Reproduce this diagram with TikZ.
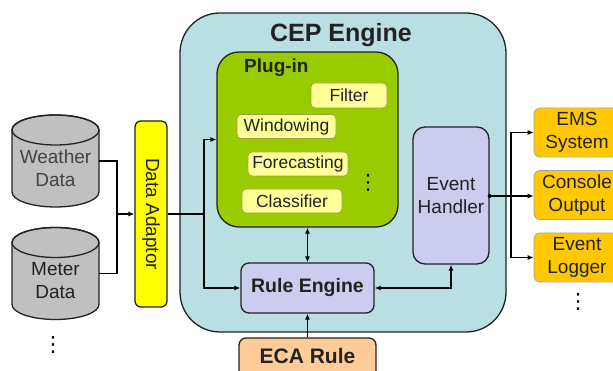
\documentclass[tikz,border=0pt]{standalone}
\usepackage{fontspec}
\setmainfont{Liberation Sans}
\newfontfamily\symfont{DejaVu Sans}
\usetikzlibrary{arrows.meta}
\definecolor{cepbg}{HTML}{B9DFE2}
\definecolor{plugbg}{HTML}{99CC00}
\definecolor{itembg}{HTML}{FFFF99}
\definecolor{itemline}{HTML}{A0A040}
\definecolor{lavender}{HTML}{CCCCEE}
\definecolor{adaptor}{HTML}{FFFF00}
\definecolor{cylgray}{HTML}{C0C0C0}
\definecolor{outbg}{HTML}{FFC800}
\definecolor{ecabg}{HTML}{FFCC99}
\definecolor{ink}{HTML}{222222}
\tikzset{
  box/.style={draw=ink, line width=1.3pt, inner sep=0pt},
  txt/.style={text=ink, font=\fontsize{19}{23}\selectfont, align=center, inner sep=0pt},
  btxt/.style={text=ink, font=\fontsize{19.5}{23}\selectfont\bfseries, align=center, inner sep=0pt},
  item/.style={draw=itemline, line width=0.8pt, fill=itembg, rounded corners=4pt,
    text=ink, font=\fontsize{17.5}{20}\selectfont, inner sep=0pt},
  outbox/.style={draw=gray!70, line width=0.8pt, fill=outbg, rounded corners=6pt,
    minimum width=86pt, minimum height=49pt, text=ink,
    font=\fontsize{19}{23}\selectfont, align=center, inner sep=0pt},
  wire/.style={draw=black, line width=1.1pt},
  arr/.style={wire, -{Latex[length=6pt,width=5pt]}},
  biarr/.style={wire, {Latex[length=6pt,width=5pt]}-{Latex[length=6pt,width=5pt]}},
  dots/.style={inner sep=0pt, text=black, font=\symfont\fontsize{21}{21}\selectfont},
}
\begin{document}
\begin{tikzpicture}[x=1pt,y=1pt]
\useasboundingbox (0,0) rectangle (613,371);
\clip (0,0) rectangle (613,371);
\fill[white] (0,0) rectangle (613,371);

% CEP engine container
\node[box, fill=cepbg, rounded corners=40pt, minimum width=326pt, minimum height=319pt] (cep) at (343,198.5) {};
\node[text=ink, font=\fontsize{25}{28}\selectfont\bfseries, inner sep=0pt] (ceptitle) at (341,336) {CEP Engine};

% plug-in group
\node[box, fill=plugbg, rounded corners=22pt, minimum width=181pt, minimum height=175pt] (plug) at (307.5,231.5) {};
\node[text=ink, font=\fontsize{19}{22}\selectfont\bfseries, inner sep=0pt, anchor=west] (plugtitle) at (244,303) {Plug-in};
\node[item, minimum width=76pt, minimum height=25pt] (filter) at (349,275.5) {Filter};
\node[item, minimum width=99pt, minimum height=24pt] (window) at (286.5,244.5) {Windowing};
\node[item, minimum width=100pt, minimum height=24pt] (forecast) at (298,207) {Forecasting};
\node[item, minimum width=100pt, minimum height=24pt] (classif) at (292,170) {Classifier};
\node[dots] (plugdots) at (368,188) {⋮};

% event handler and rule engine
\node[box, fill=lavender, rounded corners=12pt, minimum width=76pt, minimum height=137pt] (eh) at (451,175.5) {};
\node[txt] (ehtext) at (451,175) {Event\\Handler};
\node[box, fill=lavender, rounded corners=8pt, minimum width=133pt, minimum height=50pt, btxt] (re) at (307.5,83) {Rule Engine};

% ECA rule (runs past the lower edge)
\node[box, fill=ecabg, rounded corners=7pt, minimum width=137pt, minimum height=53pt] (eca) at (307.5,6.5) {};
\node[text=ink, font=\fontsize{21}{24}\selectfont\bfseries, inner sep=0pt] (ecatext) at (307.5,15) {ECA Rule};

% data adaptor
\node[box, fill=adaptor, rounded corners=6pt, minimum width=32pt, minimum height=186pt] (da) at (151,157) {};
\node[txt, rotate=-90] (datext) at (151,157) {Data Adaptor};

% data sources drawn as cylinders
\foreach \cy/\name in {210/wd, 97.5/md} {
  \pgfmathsetmacro{\topc}{\cy+46-15}
  \pgfmathsetmacro{\botc}{\cy-46+15}
  \filldraw[fill=cylgray, draw=ink, line width=1.3pt]
    (12,\topc) -- (12,\botc) arc[start angle=180, end angle=360, x radius=43.5pt, y radius=15pt]
    -- (99,\topc) arc[start angle=0, end angle=180, x radius=43.5pt, y radius=15pt] -- cycle;
  \draw[draw=ink, line width=1.3pt] (55.5,\topc) ellipse[x radius=43.5pt, y radius=15pt];
  \node[minimum width=87pt, minimum height=92pt, inner sep=0pt] (\name) at (55.5,\cy) {};
}
\node[txt, text=ink!85] (wdtext) at (55.5,202.5) {Weather\\Data};
\node[txt] (mdtext) at (55.5,90.5) {Meter\\Data};
\node[dots] (srcdots) at (53,26) {⋮};

% output sinks
\node[outbox] (ems) at (577,238.5) {EMS\\System};
\node[outbox] (console) at (577,176) {Console\\Output};
\node[outbox] (logger) at (577,113.5) {Event\\Logger};
\node[dots] (outdots) at (578,69) {⋮};

% connectors
\coordinate (join) at (117,157);
\draw[wire] (wd.east) -| (join);
\draw[wire] (md.east) -| (join);
\draw[arr] (join) -- (da.west);

\coordinate (split) at (204,157);
\draw[wire] (da.east) -- (split);
\draw[arr] (split) |- (plug.west);
\draw[arr] (split) |- (re.west);

\draw[biarr] (plug.south -| re.north) -- (re.north);
\draw[arr] (eca.north) -- (re.south);
\draw[biarr] (eh.south) |- (re.east);

\coordinate (fan) at (511,175);
\draw[wire] (eh.east |- fan) -- (fan);
\fill (eh.east |- fan) circle (2pt);
\draw[arr] (fan) |- (ems.west);
\draw[arr] (fan) -- (console.west |- fan);
\draw[arr] (fan) |- (logger.west);
\end{tikzpicture}
\end{document}
